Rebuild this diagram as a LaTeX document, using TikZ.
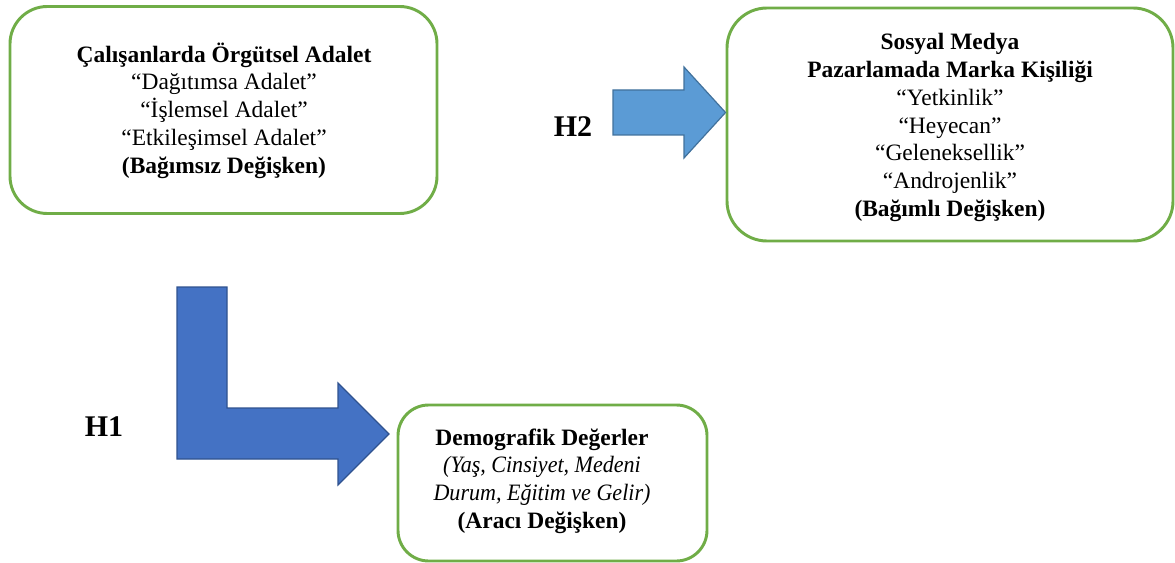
\documentclass[tikz,border=0pt]{standalone}
\usepackage{fontspec}
\usepackage{graphicx}
\setmainfont{Liberation Serif}
\definecolor{boxgreen}{HTML}{70AD47}
\definecolor{lightblue}{HTML}{5B9BD5}
\definecolor{lightblueedge}{HTML}{41719C}
\definecolor{darkblue}{HTML}{4472C4}
\definecolor{darkblueedge}{HTML}{2F528F}
\newcommand{\narrowit}[1]{\scalebox{0.94}[1]{\itshape #1}}
\begin{document}
\begin{tikzpicture}[x=0.75pt,y=-0.75pt,
  varbox/.style={draw=boxgreen, line width=2.2pt, fill=white, rectangle, inner sep=0pt},
  boxtext/.style={align=center, inner sep=0pt, font=\fontsize{17.6}{20.8}\selectfont},
  hlabel/.style={inner sep=0pt, font=\fontsize{22.5}{26}\selectfont\bfseries},
  lightarrow/.style={fill=lightblue, draw=lightblueedge, line width=0.9pt},
  darkarrow/.style={fill=darkblue, draw=darkblueedge, line width=0.9pt}]
\useasboundingbox (0,0) rectangle (1175,563);

% boxes
\node[varbox, rounded corners=28pt, minimum width=320.25pt, minimum height=155.25pt] (b1) at (223.5,110) {};
\node[varbox, rounded corners=30pt, minimum width=334.5pt, minimum height=174.75pt] (b2) at (950,124.5) {};
\node[varbox, rounded corners=23pt, minimum width=231.75pt, minimum height=117pt] (b3) at (552.5,483) {};

% texts
\node[boxtext] (t1) at (224,110.5) {\textbf{Çalışanlarda Örgütsel Adalet}\\“Dağıtımsa Adalet”\\“İşlemsel Adalet”\\“Etkileşimsel Adalet”\\\textbf{(Bağımsız Değişken)}};
\node[boxtext] (t2) at (950,127.5) {\textbf{Sosyal Medya}\\\textbf{Pazarlamada Marka Kişiliği}\\“Yetkinlik”\\“Heyecan”\\“Geleneksellik”\\“Androjenlik”\\\textbf{(Bağımlı Değişken)}};
\node[boxtext] (t3) at (542,481) {\textbf{Demografik Değerler}\\\narrowit{(Yaş, Cinsiyet, Medeni}\\\narrowit{Durum, Eğitim ve Gelir)}\\\textbf{(Aracı Değişken)}};

% block arrows
\draw[lightarrow] (613,90) -- (684,90) -- (684,67) -- (b2.west |- 0,112.5) -- (684,158) -- (684,135) -- (613,135) -- cycle;
\draw[darkarrow] (177,287) -- (227,287) -- (227,408) -- (338,408) -- (338,383) -- (389,434) -- (338,485) -- (338,459) -- (177,459) -- cycle;

% labels
\node[hlabel] (h2) at (573,127) {H2};
\node[hlabel] (h1) at (104,427) {H1};
\end{tikzpicture}
\end{document}
